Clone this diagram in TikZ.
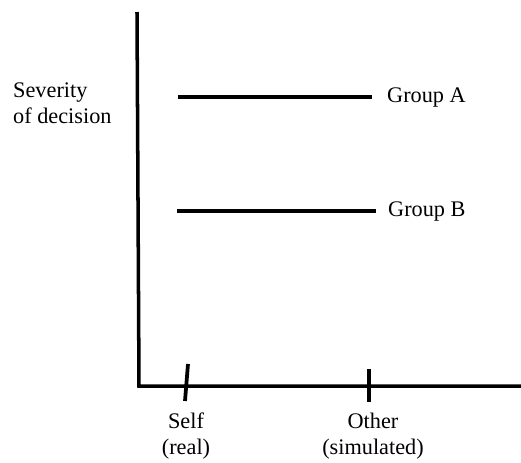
\documentclass[tikz,border=0pt]{standalone}
\usepackage{fontspec}
\setmainfont{Liberation Serif}
\usetikzlibrary{positioning}
\tikzset{
	axisline/.style={
			line width=3pt,
			draw=black
		},
	groupline/.style={
			line width=3.2pt,
			draw=black
		},
	tickline/.style={
			line width=3.2pt,
			draw=black
		},
	plaintext/.style={
			font=\fontsize{19}{22.5}\selectfont,
			inner sep=0pt,
			align=center
		}
}

\begin{document}
\begin{tikzpicture}[x=0.03cm, y=-0.03cm]
        \useasboundingbox (0,0) rectangle (521,462);

        % axes
        \coordinate (o) at (139,386);
        \coordinate (ytop) at (137,12);
        \coordinate (xend) at (521,386);
        \draw[axisline] (ytop) -- (o) -- (xend);

        \node[plaintext, align=left, anchor=west] at (13,103) (ylab) {Severity\\of decision};

        % ticks
        \coordinate (selftop) at (188,364);
        \coordinate (selfbot) at (185,401);
        \coordinate (othertop) at (369,369);
        \coordinate (otherbot) at (369,402);
        \draw[tickline] (selftop) -- (selfbot);
        \draw[tickline] (othertop) -- (otherbot);

        \node[plaintext] at (186,436) (self) {Self\\(real)};
        \node[plaintext] at (373,436) (other) {Other\\(simulated)};

        % groups
        \coordinate (astart) at (178,97);
        \coordinate (aend) at (372,97);
        \coordinate (bstart) at (177,211);
        \coordinate (bend) at (376,211);
        \draw[groupline] (astart) -- (aend);
        \draw[groupline] (bstart) -- (bend);

        \node[plaintext, right = 0.45cm of aend] (ga) {Group A};
        \node[plaintext, right = 0.36cm of bend] (gb) {Group B};
      \end{tikzpicture}
\end{document}
